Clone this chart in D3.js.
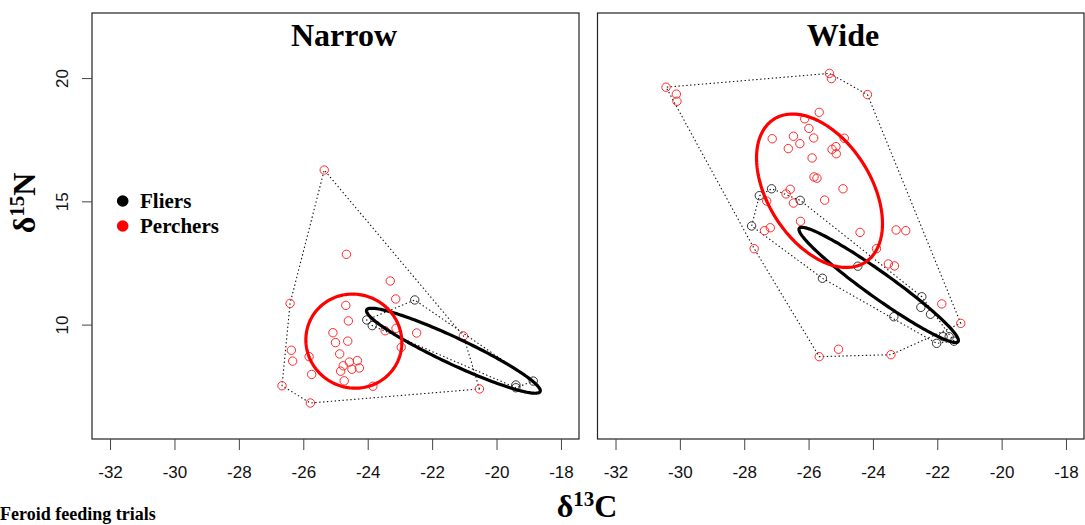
<!DOCTYPE html>
<html><head><meta charset="utf-8">
<script src="https://cdn.jsdelivr.net/npm/d3@7"></script>
<style>
body{margin:0;background:#fff;}
svg{display:block;}
</style></head>
<body>
<svg id="chart" width="1085" height="525"></svg>
<script>
// ---------- data ----------
const panelNames = ["Narrow", "Wide"];
const xTicks = [-32, -30, -28, -26, -24, -22, -20, -18];
const yTicks = [10, 15, 20];
const xDomain = [-32, -18];
const yDomain = [6, 22];
const groups = ["Fliers", "Perchers"];

const narrowFliers = [
  [-22.54, 11.0], [-24.03, 10.19], [-23.86, 9.96], [-19.40, 7.55], [-19.40, 7.44], [-18.86, 7.71]
];
const narrowPerchers = [
  [-25.35, 16.27], [-24.66, 12.85], [-23.30, 11.77], [-23.13, 11.04], [-26.41, 10.86],
  [-24.68, 10.78], [-24.60, 10.15], [-25.08, 9.67], [-23.46, 9.75], [-23.12, 9.85],
  [-22.48, 9.66], [-25.00, 9.27], [-24.62, 9.33], [-26.37, 8.96], [-26.33, 8.52],
  [-25.82, 8.70], [-24.87, 8.81], [-22.96, 9.08], [-24.57, 8.48], [-24.32, 8.54],
  [-24.76, 8.33], [-24.49, 8.19], [-24.26, 8.24], [-24.84, 8.11], [-25.74, 7.98],
  [-24.73, 7.72], [-23.84, 7.50], [-26.66, 7.52], [-25.78, 6.82], [-20.53, 7.39],
  [-21.03, 9.54]
];
const wideFliers = [
  [-27.15, 15.51], [-27.53, 15.23], [-26.26, 15.04], [-27.77, 14.00], [-24.47, 12.37],
  [-25.57, 11.88], [-22.48, 11.13], [-22.51, 10.70], [-22.21, 10.42], [-23.35, 10.32],
  [-21.82, 9.51], [-21.63, 9.51], [-22.02, 9.24], [-21.48, 9.33]
];
const widePerchers = [
  [-30.43, 19.63], [-30.11, 19.35], [-30.09, 19.06], [-25.35, 20.19], [-25.29, 19.98],
  [-24.17, 19.33], [-25.67, 18.61], [-26.12, 18.35], [-25.99, 17.96], [-27.13, 17.54],
  [-26.47, 17.64], [-25.84, 17.57], [-24.89, 17.56], [-26.27, 17.34], [-26.63, 17.14],
  [-25.27, 17.11], [-25.15, 17.22], [-25.14, 16.93], [-25.89, 16.76], [-25.83, 15.99],
  [-25.74, 15.94], [-24.93, 15.51], [-26.57, 15.49], [-26.70, 15.30], [-25.50, 15.05],
  [-26.47, 14.93], [-27.30, 15.01], [-26.25, 14.19], [-27.37, 13.81], [-27.19, 13.93],
  [-27.69, 13.08], [-24.40, 13.74], [-23.28, 13.84], [-22.98, 13.81], [-23.89, 13.08],
  [-23.52, 12.46], [-23.33, 12.38], [-21.86, 10.84], [-21.27, 10.05], [-25.07, 9.00],
  [-25.67, 8.70], [-23.44, 8.78]
];
// standard ellipses: [centre x, centre y, var x, var y, cov xy]
const narrowFliersEllipse = [-21.34, 8.94, 7.28, 2.97, -4.37];
const narrowPerchersEllipse = [-24.43, 9.33, 2.22, 3.64, -0.08];
const wideFliersEllipse = [-23.82, 11.61, 6.14, 5.46, -5.58];
const widePerchersEllipse = [-25.66, 15.43, 3.83, 9.68, -2.60];

const groupColors = ["#000000", "#ff0000"];

// ---------- layout ----------
const panels = [
  {name: panelNames[0], x0: 92, x1: 579, titleX: 344,
   sets: [[narrowFliers, narrowFliersEllipse], [narrowPerchers, narrowPerchersEllipse]], yAxis: true},
  {name: panelNames[1], x0: 597.5, x1: 1084, titleX: 843,
   sets: [[wideFliers, wideFliersEllipse], [widePerchers, widePerchersEllipse]], yAxis: false}
];
const yTop = 13, yBot = 439;
const pad = 0.04;
const xd = [xDomain[0] - pad * (xDomain[1] - xDomain[0]), xDomain[1] + pad * (xDomain[1] - xDomain[0])];
const yd = [yDomain[0] - pad * (yDomain[1] - yDomain[0]), yDomain[1] + pad * (yDomain[1] - yDomain[0])];

const svg = d3.select("#chart");
const serif = "'Liberation Serif','Times New Roman',serif";
const sans = "'Liberation Sans',Arial,sans-serif";

function ellipsePoints(e) {
  const [cx, cy, a, b, c] = e;
  const tr = a + b, det = a * b - c * c;
  const disc = Math.sqrt(Math.max(0, tr * tr / 4 - det));
  const l1 = tr / 2 + disc, l2 = tr / 2 - disc;
  let vx, vy;
  if (Math.abs(c) > 1e-12) { vx = l1 - b; vy = c; } else if (a >= b) { vx = 1; vy = 0; } else { vx = 0; vy = 1; }
  const n = Math.hypot(vx, vy); vx /= n; vy /= n;
  const s1 = Math.sqrt(l1), s2 = Math.sqrt(Math.max(l2, 0));
  const pts = [];
  for (let i = 0; i < 200; i++) {
    const t = 2 * Math.PI * i / 200;
    const u = s1 * Math.cos(t), v = s2 * Math.sin(t);
    pts.push([cx + u * vx - v * vy, cy + u * vy + v * vx]);
  }
  return pts;
}

panels.forEach(p => {
  const x = d3.scaleLinear().domain(xd).range([p.x0, p.x1]);
  const y = d3.scaleLinear().domain(yd).range([yBot, yTop]);
  const g = svg.append("g");

  // hulls
  p.sets.forEach(([pts]) => {
    const hull = d3.polygonHull(pts.map(d => [x(d[0]), y(d[1])]));
    g.append("path")
      .attr("d", "M" + hull.map(h => h.join(",")).join("L") + "Z")
      .attr("fill", "none").attr("stroke", "#111").attr("stroke-width", 1.1)
      .attr("stroke-dasharray", "1.4,2.5");
  });
  // points
  p.sets.forEach(([pts], gi) => {
    g.selectAll(null).data(pts).enter().append("circle")
      .attr("cx", d => x(d[0])).attr("cy", d => y(d[1])).attr("r", 4.2)
      .attr("fill", "none").attr("stroke", gi === 0 ? "#333" : "#ff2a2a").attr("stroke-width", 1);
  });
  // ellipses
  const line = d3.line().x(d => x(d[0])).y(d => y(d[1])).curve(d3.curveLinearClosed);
  p.sets.forEach(([, e], gi) => {
    g.append("path").attr("d", line(ellipsePoints(e)))
      .attr("fill", "none").attr("stroke", groupColors[gi]).attr("stroke-width", 3.2);
  });

  // box
  g.append("rect").attr("x", p.x0).attr("y", yTop).attr("width", p.x1 - p.x0).attr("height", yBot - yTop)
    .attr("fill", "none").attr("stroke", "#222").attr("stroke-width", 1.2);

  // x axis
  const xa = svg.append("g").attr("transform", `translate(0,${yBot})`)
    .call(d3.axisBottom(x).tickValues(xTicks).tickSize(11).tickFormat(d3.format("d")));
  xa.select(".domain").remove();
  xa.selectAll(".tick line").attr("stroke", "#444").attr("stroke-width", 1);
  xa.selectAll(".tick text").attr("font-family", sans).attr("font-size", 17).attr("fill", "#111")
    .attr("y", 0).attr("dy", 0).attr("transform", "translate(0,39)");
  xa.selectAll(".tick text").text(d => d3.format("d")(d).replace("−", "-"));

  if (p.yAxis) {
    const ya = svg.append("g").attr("transform", `translate(${p.x0},0)`)
      .call(d3.axisLeft(y).tickValues(yTicks).tickSize(10).tickFormat(d3.format("d")));
    ya.select(".domain").remove();
    ya.selectAll(".tick line").attr("stroke", "#444").attr("stroke-width", 1);
    ya.selectAll(".tick text").attr("font-family", sans).attr("font-size", 17).attr("fill", "#111")
      .attr("x", 0).attr("dy", 0).attr("text-anchor", "middle")
      .attr("transform", "translate(-24,0) rotate(-90)");
  }

  // title
  svg.append("text").attr("x", p.titleX).attr("y", 46).attr("text-anchor", "middle")
    .attr("font-family", serif).attr("font-weight", "bold").attr("font-size", 32).text(p.name);
});

// legend
const leg = svg.append("g");
groups.forEach((gname, i) => {
  leg.append("circle").attr("cx", 122.7).attr("cy", 201 + i * 25).attr("r", 5.8).attr("fill", groupColors[i]);
  leg.append("text").attr("x", 140).attr("y", 208 + i * 25).attr("font-family", serif)
    .attr("font-weight", "bold").attr("font-size", 21).text(gname);
});

// axis titles
const yt = svg.append("text").attr("transform", "translate(35,203) rotate(-90)").attr("text-anchor", "middle")
  .attr("font-family", serif).attr("font-weight", "bold").attr("font-size", 32);
yt.append("tspan").text("δ");
yt.append("tspan").attr("font-size", 21).attr("dy", -11).text("15");
yt.append("tspan").attr("dy", 11).text("N");

const xt = svg.append("text").attr("x", 587).attr("y", 517).attr("text-anchor", "middle")
  .attr("font-family", serif).attr("font-weight", "bold").attr("font-size", 32);
xt.append("tspan").text("δ");
xt.append("tspan").attr("font-size", 21).attr("dy", -11).text("13");
xt.append("tspan").attr("dy", 11).text("C");

// caption line at the bottom edge
svg.append("text").attr("x", 0).attr("y", 520).attr("font-family", serif).attr("font-weight", "bold")
  .attr("font-size", 18).text("Feroid feeding trials");
</script>
</body></html>
